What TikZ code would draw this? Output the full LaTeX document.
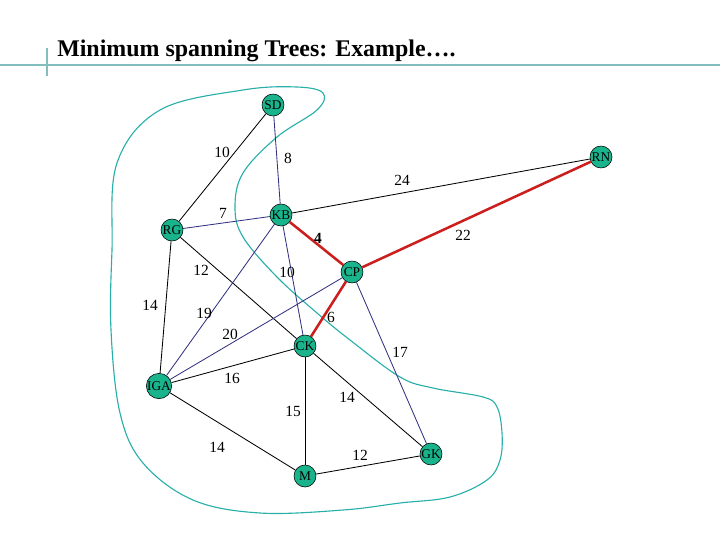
\documentclass[tikz,border=0pt]{standalone}
\usepackage{fontspec}
\setmainfont{Liberation Serif}
\usetikzlibrary{positioning}
\definecolor{mteal}{RGB}{25,180,140}
\definecolor{mrule}{RGB}{130,190,190}
\definecolor{mcurve}{RGB}{40,175,170}
\definecolor{mnavy}{RGB}{50,50,130}
\definecolor{mred}{RGB}{205,30,30}
\tikzset{city/.style = {circle, draw, fill=mteal, minimum size=0.55cm, inner sep=0pt,
                        font=\fontsize{9.5}{9.5}\selectfont},
         weight/.style = {inner sep=0pt, font=\fontsize{11}{11}\selectfont},
         plain/.style = {black, line width=0.6pt},
         link/.style = {mnavy, line width=0.6pt},
         tree/.style = {mred, line width=1.8pt}}

\begin{document}
\begin{tikzpicture}[x=0.025cm, y=-0.025cm]
      \useasboundingbox (0, 0) rectangle (720, 540);

      \node [anchor=base west, inner sep=0pt, font=\bfseries\fontsize{17}{17}\selectfont] (title) at (57, 56) {Minimum spanning Trees: Example….};
      \draw [mrule, line width=2pt] (0, 65) -- (720, 65);
      \draw [mrule, line width=1.2pt] (47, 48) -- (47, 76);

      \draw [mcurve, line width=0.8pt] plot [smooth cycle, tension=0.6] coordinates {
        (323, 93) (317, 110) (277, 137) (243, 173) (235, 207) (243, 237) (277, 277)
        (317, 313) (350, 340) (400, 377) (433, 388) (483, 397) (497, 407) (502, 433)
        (500, 460) (487, 480) (450, 497) (400, 503) (343, 510) (260, 513) (193, 500)
        (143, 463) (120, 413) (111, 330) (112, 250) (117, 163) (160, 110) (243, 90) (297, 87)};

      \node [city] (SD) at (273, 105) {SD};
      \node [city] (RN) at (601, 157) {RN};
      \node [city] (KB) at (281, 215) {KB};
      \node [city] (RG) at (172, 230) {RG};
      \node [city] (CP) at (352, 272) {CP};
      \node [city] (CK) at (305, 346) {CK};
      \node [city] (IGA) at (159, 386) {IGA};
      \node [city] (GK) at (431, 454) {GK};
      \node [city] (M) at (305, 476) {M};

      \draw [plain] (SD) -- (RG);
      \draw [link] (SD) -- (KB);
      \draw [plain] (KB) -- (RN);
      \draw [link] (RG) -- (KB);
      \draw [tree] (KB) -- (CP);
      \draw [tree] (CP) -- (RN);
      \draw [plain] (RG) -- (CK);
      \draw [link] (KB) -- (CK);
      \draw [plain] (RG) -- (IGA);
      \draw [link] (KB) -- (IGA);
      \draw [link] (CP) -- (IGA);
      \draw [tree] (CP) -- (CK);
      \draw [link] (CP) -- (GK);
      \draw [plain] (IGA) -- (CK);
      \draw [plain] (CK) -- (GK);
      \draw [plain] (CK) -- (M);
      \draw [plain] (IGA) -- (M);
      \draw [plain] (M) -- (GK);

      \node [weight] (w10a) at (222, 152) {10};
      \node [weight] (w8) at (288, 158) {8};
      \node [weight] (w24) at (402, 180) {24};
      \node [weight] (w7) at (223, 213) {7};
      \node [weight, font=\bfseries\fontsize{11}{11}\selectfont] (w4) at (318, 238) {4};
      \node [weight] (w22) at (463, 235) {22};
      \node [weight] (w12a) at (201, 270) {12};
      \node [weight] (w10b) at (287, 272) {10};
      \node [weight] (w14a) at (150, 305) {14};
      \node [weight] (w19) at (204, 313) {19};
      \node [weight] (w20) at (230, 334) {20};
      \node [weight] (w6) at (331, 317) {6};
      \node [weight] (w17) at (400, 352) {17};
      \node [weight] (w16) at (232, 378) {16};
      \node [weight] (w14b) at (347, 397) {14};
      \node [weight] (w15) at (293, 411) {15};
      \node [weight] (w14c) at (217, 447) {14};
      \node [weight] (w12b) at (360, 455) {12};
    \end{tikzpicture}
\end{document}
